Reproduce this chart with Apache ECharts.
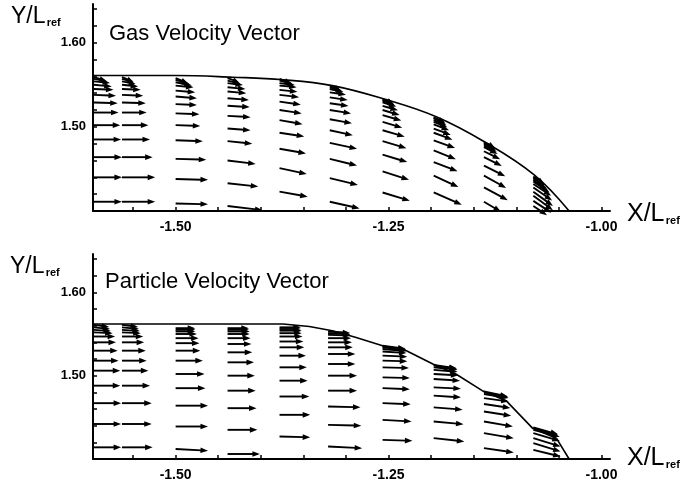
<!DOCTYPE html>
<html>
<head>
<meta charset="utf-8">
<script src="https://cdn.jsdelivr.net/npm/echarts@6/dist/echarts.min.js"></script>
<style>
  html, body { margin: 0; padding: 0; background: #fff; }
  #chart { width: 683px; height: 488px; }
</style>
</head>
<body>
<div id="chart"></div>
<script>
// ---- Axis ticks ----
const xTickValues = [-1.55, -1.50, -1.45, -1.40, -1.35, -1.30, -1.25, -1.20, -1.15, -1.10, -1.05, -1.00];
const xLabelValues = [-1.50, -1.25, -1.00];
const yTickValues = [1.42, 1.44, 1.46, 1.48, 1.50, 1.52, 1.54, 1.56, 1.58, 1.60, 1.62, 1.64];
const yLabelValues = [1.50, 1.60];

// ---- Wall contour (upper boundary of the flow region) ----
const gasWallX = [-1.597, -1.50, -1.433, -1.374, -1.316, -1.255, -1.194, -1.137, -1.079, -1.038];
const gasWallY = [1.561, 1.561, 1.559, 1.556, 1.549, 1.533, 1.512, 1.482, 1.443, 1.400];
const partWallX = [-1.597, -1.374, -1.343, -1.316, -1.289, -1.257, -1.229, -1.198, -1.171, -1.140, -1.112, -1.081, -1.053, -1.038];
const partWallY = [1.562, 1.562, 1.559, 1.554, 1.546, 1.536, 1.530, 1.514, 1.502, 1.482, 1.470, 1.437, 1.425, 1.400];

// ---- Gas velocity vectors: grid column stations, node heights, scaled components ----
const gasColX = [-1.596, -1.563, -1.500, -1.439, -1.378, -1.319, -1.257, -1.197, -1.138, -1.080];
const gasY = [
  [1.411, 1.440, 1.464, 1.485, 1.502, 1.517, 1.529, 1.538, 1.545, 1.550, 1.554, 1.557, 1.559],
  [1.411, 1.440, 1.464, 1.485, 1.502, 1.517, 1.529, 1.538, 1.545, 1.550, 1.554, 1.557, 1.559],
  [1.409, 1.438, 1.462, 1.484, 1.502, 1.516, 1.527, 1.536, 1.543, 1.549, 1.553, 1.556, 1.558],
  [1.406, 1.433, 1.460, 1.483, 1.498, 1.513, 1.525, 1.534, 1.542, 1.547, 1.552, 1.555, 1.558],
  [1.423, 1.451, 1.474, 1.493, 1.508, 1.520, 1.530, 1.538, 1.544, 1.549, 1.552, 1.555, 1.557],
  [1.411, 1.439, 1.462, 1.481, 1.496, 1.509, 1.520, 1.528, 1.535, 1.541, 1.545, 1.547, 1.549],
  [1.422, 1.447, 1.467, 1.483, 1.496, 1.506, 1.514, 1.520, 1.525, 1.529, 1.531, 1.532, 1.533],
  [1.422, 1.442, 1.458, 1.472, 1.484, 1.493, 1.498, 1.503, 1.506, 1.508, 1.510, 1.511, 1.511],
  [1.411, 1.428, 1.442, 1.454, 1.464, 1.471, 1.476, 1.478, 1.480, 1.481, 1.482],
  [1.406, 1.412, 1.418, 1.423, 1.428, 1.432, 1.435, 1.437, 1.439, 1.440, 1.441]
];
const gasU = [
  [0.033, 0.033, 0.033, 0.032, 0.031, 0.029, 0.028, 0.026, 0.023, 0.021, 0.019, 0.016, 0.014],
  [0.039, 0.039, 0.036, 0.033, 0.031, 0.029, 0.028, 0.025, 0.022, 0.019, 0.016, 0.014, 0.013],
  [0.038, 0.038, 0.036, 0.032, 0.029, 0.028, 0.025, 0.025, 0.023, 0.021, 0.019, 0.016, 0.014],
  [0.041, 0.036, 0.033, 0.029, 0.027, 0.027, 0.026, 0.025, 0.022, 0.021, 0.018, 0.015, 0.013],
  [0.033, 0.032, 0.031, 0.029, 0.027, 0.026, 0.025, 0.023, 0.021, 0.020, 0.018, 0.015, 0.013],
  [0.035, 0.033, 0.032, 0.032, 0.027, 0.026, 0.025, 0.022, 0.021, 0.019, 0.016, 0.014, 0.012],
  [0.032, 0.031, 0.029, 0.028, 0.026, 0.023, 0.022, 0.020, 0.018, 0.016, 0.014, 0.013, 0.012],
  [0.033, 0.029, 0.028, 0.026, 0.025, 0.022, 0.020, 0.018, 0.016, 0.015, 0.014, 0.013, 0.012],
  [0.020, 0.028, 0.026, 0.025, 0.021, 0.019, 0.016, 0.015, 0.014, 0.013, 0.012],
  [0.016, 0.021, 0.023, 0.023, 0.022, 0.021, 0.019, 0.016, 0.014, 0.013, 0.012]
];
const gasV = [
  [0, 0, 0, 0, 0, 0, -0.001, -0.001, -0.001, -0.002, -0.002, -0.003, -0.004],
  [0, 0, 0, 0, 0, 0, -0.001, -0.001, -0.001, -0.002, -0.003, -0.004, -0.005],
  [-0.001, -0.001, -0.001, -0.001, -0.001, -0.001, -0.001, -0.002, -0.002, -0.002, -0.004, -0.005, -0.006],
  [-0.005, -0.004, -0.004, -0.003, -0.002, -0.0015, -0.0015, -0.002, -0.002, -0.002, -0.0024, -0.0036, -0.0048],
  [-0.006, -0.007, -0.0056, -0.0044, -0.0048, -0.004, -0.0036, -0.0027, -0.0024, -0.0018, -0.0024, -0.0036, -0.0048],
  [-0.008, -0.008, -0.008, -0.007, -0.006, -0.0048, -0.004, -0.0032, -0.0032, -0.0027, -0.0036, -0.0042, -0.0048],
  [-0.0099, -0.0099, -0.0089, -0.0083, -0.0077, -0.0071, -0.0065, -0.006, -0.0054, -0.0048, -0.0048, -0.0045, -0.0042],
  [-0.0146, -0.0135, -0.0107, -0.0104, -0.0092, -0.0083, -0.0077, -0.0071, -0.0065, -0.0062, -0.006, -0.0057, -0.0054],
  [-0.0119, -0.0151, -0.0146, -0.0127, -0.0104, -0.0095, -0.0083, -0.0077, -0.0071, -0.0065, -0.006],
  [-0.011, -0.014, -0.017, -0.017, -0.0155, -0.014, -0.013, -0.012, -0.011, -0.0095, -0.008]
];

// ---- Particle velocity vectors ----
const partColX = [-1.596, -1.563, -1.500, -1.439, -1.378, -1.321, -1.257, -1.197, -1.138, -1.080];
const partY = [
  [1.414, 1.442, 1.467, 1.488, 1.506, 1.518, 1.530, 1.540, 1.547, 1.552, 1.555, 1.558, 1.561],
  [1.414, 1.442, 1.467, 1.488, 1.506, 1.518, 1.530, 1.540, 1.547, 1.552, 1.555, 1.558, 1.561],
  [1.412, 1.439, 1.464, 1.485, 1.502, 1.518, 1.530, 1.539, 1.545, 1.550, 1.553, 1.555, 1.557],
  [1.406, 1.435, 1.461, 1.482, 1.500, 1.516, 1.528, 1.538, 1.545, 1.550, 1.553, 1.555, 1.557],
  [1.427, 1.453, 1.475, 1.494, 1.510, 1.524, 1.534, 1.541, 1.547, 1.551, 1.554, 1.556, 1.558],
  [1.415, 1.441, 1.463, 1.482, 1.500, 1.514, 1.526, 1.534, 1.540, 1.545, 1.549, 1.551, 1.553],
  [1.423, 1.447, 1.467, 1.485, 1.498, 1.510, 1.518, 1.524, 1.529, 1.532, 1.534, 1.535, 1.536],
  [1.425, 1.445, 1.462, 1.476, 1.486, 1.496, 1.502, 1.507, 1.510, 1.512, 1.513],
  [1.413, 1.431, 1.445, 1.457, 1.466, 1.473, 1.478, 1.480, 1.481],
  [1.411, 1.419, 1.425, 1.431, 1.435, 1.437, 1.438]
];
const partU = [
  [0.032, 0.032, 0.032, 0.031, 0.031, 0.029, 0.028, 0.026, 0.025, 0.022, 0.020, 0.019, 0.018],
  [0.036, 0.035, 0.035, 0.033, 0.031, 0.029, 0.028, 0.026, 0.025, 0.022, 0.021, 0.020, 0.019],
  [0.038, 0.038, 0.038, 0.035, 0.034, 0.032, 0.029, 0.028, 0.027, 0.025, 0.023, 0.023, 0.023],
  [0.038, 0.035, 0.034, 0.033, 0.032, 0.031, 0.029, 0.028, 0.027, 0.026, 0.026, 0.025, 0.025],
  [0.036, 0.036, 0.035, 0.033, 0.032, 0.031, 0.029, 0.028, 0.027, 0.026, 0.026, 0.025, 0.025],
  [0.040, 0.039, 0.038, 0.034, 0.034, 0.032, 0.032, 0.029, 0.028, 0.027, 0.027, 0.026, 0.026],
  [0.035, 0.034, 0.033, 0.032, 0.032, 0.031, 0.029, 0.029, 0.028, 0.028, 0.028, 0.027, 0.027],
  [0.036, 0.035, 0.034, 0.032, 0.032, 0.031, 0.029, 0.028, 0.028, 0.027, 0.027],
  [0.035, 0.035, 0.034, 0.032, 0.031, 0.029, 0.029, 0.028, 0.028],
  [0.032, 0.032, 0.032, 0.031, 0.031, 0.029, 0.029]
];
const partV = [
  [0, 0, 0, 0, 0, 0, 0, 0, 0, -0.001, -0.0015, -0.002, -0.0025],
  [0, 0, 0, 0, 0, 0, 0, 0, 0, -0.001, -0.0015, -0.002, -0.0025],
  [-0.002, 0, 0, 0, 0, 0, 0, 0, 0, 0, 0, 0, 0],
  [0, 0, 0, 0, 0, 0, 0, 0, 0, 0, 0, 0, 0],
  [-0.001, 0, 0, 0, 0, 0, 0, 0, 0, 0, 0, 0, 0],
  [-0.002, -0.001, -0.001, 0, 0, 0, 0, 0, 0, 0, -0.0006, -0.0012, -0.0018],
  [-0.0012, -0.002, -0.0012, -0.0012, -0.0008, -0.0008, -0.0008, -0.0012, -0.0018, -0.0024, -0.003, -0.0036, -0.0036],
  [-0.004, -0.0033, -0.0028, -0.002, -0.0016, -0.002, -0.0016, -0.0024, -0.003, -0.0036, -0.0042],
  [-0.0052, -0.006, -0.006, -0.0052, -0.0048, -0.004, -0.0048, -0.0054, -0.006],
  [-0.008, -0.010, -0.010, -0.0093, -0.0084, -0.0084, -0.0084]
];

// ---- Build series data ----
function vectorRows(colX, ys, us, vs) {
  const out = [];
  colX.forEach((x, c) => {
    ys[c].forEach((y, r) => out.push([x, y, us[c][r], vs[c][r]]));
  });
  return out;
}
function pairs(xs, ys) { return xs.map((x, i) => [x, ys[i]]); }

const FONT = '"Liberation Sans", Arial, Helvetica, sans-serif';

// Arrow glyph: shaft plus filled head, both placed through the axis scales.
function renderArrow(params, api) {
  const x = api.value(0), y = api.value(1), u = api.value(2), v = api.value(3);
  const p0 = api.coord([x, y]);
  const p1 = api.coord([x + u, y + v]);
  const dx = p1[0] - p0[0], dy = p1[1] - p0[1];
  const len = Math.hypot(dx, dy) || 1;
  const ex = dx / len, ey = dy / len;
  const hl = Math.min(7.5, len * 0.5), hw = 2.8;
  const bx = p1[0] - ex * hl, by = p1[1] - ey * hl;
  return {
    type: 'group',
    children: [
      { type: 'line', shape: { x1: p0[0], y1: p0[1], x2: bx + ex, y2: by + ey },
        style: { stroke: '#000', lineWidth: 1.9 } },
      { type: 'polygon', shape: { points: [[p1[0], p1[1]], [bx - ey * hw, by + ex * hw], [bx + ey * hw, by - ex * hw]] },
        style: { fill: '#000' } }
    ]
  };
}

function xAxisFor(gridIndex) {
  return {
    type: 'value', gridIndex, min: -1.597, max: -0.99,
    axisLine: { show: true, onZero: false, lineStyle: { color: '#000', width: 2 } },
    axisTick: { show: true, inside: true, length: 4, customValues: xTickValues, lineStyle: { color: '#000', width: 1.5 } },
    axisLabel: { customValues: xLabelValues, formatter: v => v.toFixed(2), color: '#000',
                 fontFamily: FONT, fontWeight: 'bold', fontSize: 14, margin: 9 },
    splitLine: { show: false }
  };
}
function yAxisFor(gridIndex) {
  return {
    type: 'value', gridIndex, min: 1.40, max: 1.646,
    axisLine: { show: true, onZero: false, lineStyle: { color: '#000', width: 2 } },
    axisTick: { show: true, inside: true, length: 4, customValues: yTickValues, lineStyle: { color: '#000', width: 1.5 } },
    axisLabel: { customValues: yLabelValues, formatter: v => v.toFixed(2), color: '#000',
                 fontFamily: FONT, fontWeight: 'bold', fontSize: 13, margin: 7 },
    splitLine: { show: false }
  };
}

function axisTitle(main, sub, x, y, size) {
  return [
    { type: 'text', x, y, style: { text: main, fill: '#000', font: `${size}px ${FONT}`, verticalAlign: 'top' } },
    { type: 'text', x: x + size * 1.55, y: y + size * 0.55,
      style: { text: sub, fill: '#000', font: `bold 11px ${FONT}`, verticalAlign: 'top' } }
  ];
}

const chart = echarts.init(document.getElementById('chart'), null, { renderer: 'canvas' });
chart.setOption({
  animation: false,
  backgroundColor: '#fff',
  grid: [
    { left: 93, top: 4, width: 517, height: 207 },
    { left: 93, top: 254, width: 517, height: 205 }
  ],
  xAxis: [xAxisFor(0), xAxisFor(1)],
  yAxis: [yAxisFor(0), yAxisFor(1)],
  graphic: [
    { type: 'text', x: 109, y: 23, style: { text: 'Gas Velocity Vector', fill: '#000', font: `22px ${FONT}`, verticalAlign: 'top' } },
    { type: 'text', x: 105, y: 271, style: { text: 'Particle Velocity Vector', fill: '#000', font: `22px ${FONT}`, verticalAlign: 'top' } },
    ...axisTitle('Y/L', 'ref', 11, 5, 23),
    ...axisTitle('Y/L', 'ref', 10, 255, 23),
    ...axisTitle('X/L', 'ref', 627, 202, 25),
    ...axisTitle('X/L', 'ref', 627, 446, 25)
  ],
  series: [
    { type: 'line', xAxisIndex: 0, yAxisIndex: 0, data: pairs(gasWallX, gasWallY), showSymbol: false,
      smooth: 0.4, lineStyle: { color: '#000', width: 1.6 }, z: 3 },
    { type: 'custom', xAxisIndex: 0, yAxisIndex: 0, data: vectorRows(gasColX, gasY, gasU, gasV),
      renderItem: renderArrow, encode: { x: 0, y: 1 }, clip: false, z: 2 },
    { type: 'line', xAxisIndex: 1, yAxisIndex: 1, data: pairs(partWallX, partWallY), showSymbol: false,
      lineStyle: { color: '#000', width: 1.6 }, z: 3 },
    { type: 'custom', xAxisIndex: 1, yAxisIndex: 1, data: vectorRows(partColX, partY, partU, partV),
      renderItem: renderArrow, encode: { x: 0, y: 1 }, clip: false, z: 2 }
  ]
});
</script>
</body>
</html>
